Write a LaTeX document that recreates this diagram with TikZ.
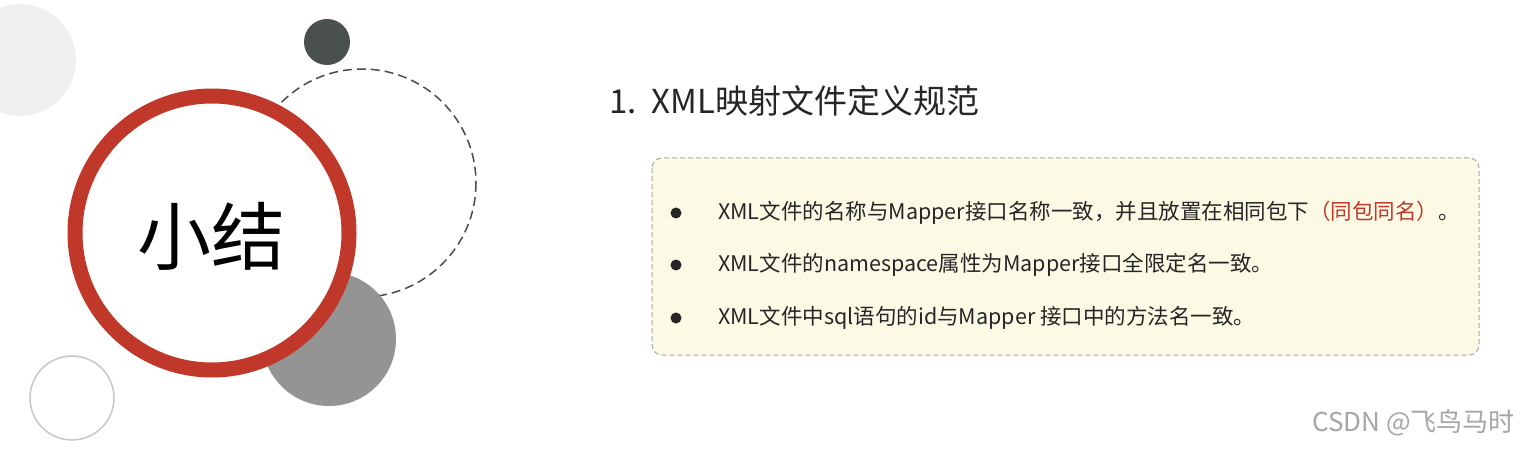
\documentclass[tikz,border=0pt]{standalone}
\usepackage{fontspec}
\setmainfont{Noto Sans CJK SC}
\usetikzlibrary{positioning}
\definecolor{ringRed}{rgb}{0.75,0.22,0.16}
\definecolor{darkDot}{rgb}{0.29,0.31,0.31}
\definecolor{noteFill}{rgb}{0.99,0.98,0.90}
\definecolor{textColor}{rgb}{0.15,0.15,0.15}
\tikzset{
  item/.style={anchor=west,inner sep=0pt,text=textColor,font=\fontsize{21.5}{24}\selectfont},
  dot/.style={circle,fill=black!85,inner sep=0pt,minimum size=11pt}
}
\begin{document}
\begin{tikzpicture}[x=1pt,y=-1pt]
\path[use as bounding box,fill=white] (0,0) rectangle (1520,449);
% decorative circles
\fill[black!6] (20,60) circle (56);
\fill[darkDot] (327,42) circle (23);
\draw[black!70,line width=1.5pt,dash pattern=on 9pt off 5pt] (362,183) circle (114);
\fill[black!42] (329,339) circle (67);
\draw[black!22,line width=1.5pt,fill=white] (72,398) circle (42);
\draw[ringRed,line width=15pt,fill=white] (212,233) circle (137);
\node[text=black,font=\fontsize{74}{78}\selectfont] (title) at (211,236) {小结};
% heading
\node[anchor=west,inner sep=0pt,text=textColor,font=\fontsize{33}{36}\selectfont] (head) at (609,101) {1.\ \ XML映射文件定义规范};
% note box
\draw[black!35,line width=1pt,dash pattern=on 5pt off 3pt,fill=noteFill,rounded corners=10pt] (652,158) rectangle (1479,355);
\node[dot] (b1) at (676,213) {};
\node[dot] (b2) at (676,265) {};
\node[dot] (b3) at (676,318) {};
\node[item] (t1) at (718,213) {XML文件的名称与Mapper接口名称一致，并且放置在相同包下\textcolor{ringRed}{（同包同名）}。};
\node[item] (t2) at (718,265) {XML文件的namespace属性为Mapper接口全限定名一致。};
\node[item] (t3) at (718,318) {XML文件中sql语句的id与Mapper 接口中的方法名一致。};
% watermark
\node[anchor=east,inner sep=0pt,text=black!35,font=\fontsize{26}{28}\selectfont] (mark) at (1515,423) {CSDN @飞鸟马时};
\end{tikzpicture}
\end{document}
